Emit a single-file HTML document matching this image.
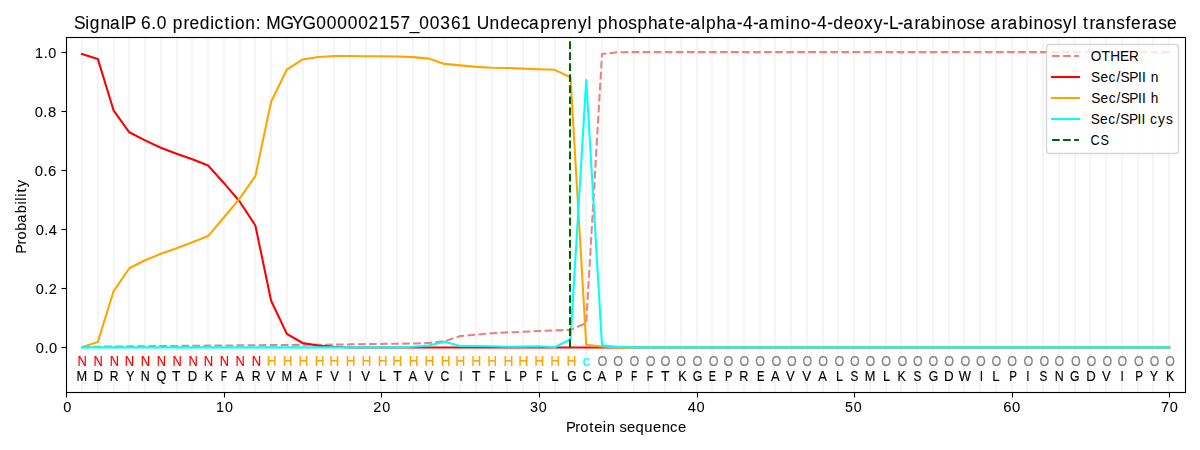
<!DOCTYPE html>
<html><head><meta charset="utf-8"><title>SignalP 6.0 prediction</title><style>html,body{margin:0;padding:0;background:#fff;width:1200px;height:450px;overflow:hidden}svg{display:block;font-family:"Liberation Sans",sans-serif}</style></head><body>
<svg width="1200" height="450" viewBox="0 0 1200 450">
<rect width="1200" height="450" fill="#fff"/>
<defs><clipPath id="c"><rect x="66.28" y="37.33" width="1118.72" height="354.39"/></clipPath></defs>
<path clip-path="url(#c)" d="M82 392V37M98 392V37M114 392V37M129 392V37M145 392V37M161 392V37M177 392V37M192 392V37M208 392V37M224 392V37M240 392V37M255 392V37M271 392V37M287 392V37M303 392V37M318 392V37M334 392V37M350 392V37M366 392V37M381 392V37M397 392V37M413 392V37M429 392V37M444 392V37M460 392V37M476 392V37M492 392V37M507 392V37M523 392V37M539 392V37M555 392V37M570 392V37M586 392V37M602 392V37M618 392V37M634 392V37M649 392V37M665 392V37M681 392V37M697 392V37M712 392V37M728 392V37M744 392V37M760 392V37M775 392V37M791 392V37M807 392V37M823 392V37M838 392V37M854 392V37M870 392V37M886 392V37M901 392V37M917 392V37M933 392V37M949 392V37M964 392V37M980 392V37M996 392V37M1012 392V37M1027 392V37M1043 392V37M1059 392V37M1075 392V37M1090 392V37M1106 392V37M1122 392V37M1138 392V37M1153 392V37M1169 392V37" stroke="#f5f5f5" stroke-width="2.08" fill="none"/>
<path clip-path="url(#c)" d="M82.03 346.83 L97.79 346.69 L113.55 346.54 L129.30 346.39 L145.06 346.24 L160.82 346.09 L176.57 345.95 L192.33 345.80 L208.09 345.65 L223.84 345.50 L239.60 345.36 L255.36 345.21 L271.11 345.09 L286.87 344.97 L302.63 344.85 L318.38 344.74 L334.14 344.62 L349.90 344.38 L365.65 344.15 L381.41 343.91 L397.17 343.67 L412.92 343.44 L428.68 342.99 L444.44 341.22 L460.19 336.05 L475.95 334.72 L491.71 333.25 L507.46 332.36 L523.22 331.77 L538.98 331.03 L554.73 330.44 L570.49 329.85 L586.25 322.91 L602.00 54.02 L617.76 52.25 L633.52 52.10 L649.27 52.10 L665.03 52.10 L680.79 52.10 L696.54 52.10 L712.30 52.10 L728.06 52.10 L743.81 52.10 L759.57 52.10 L775.33 52.10 L791.08 52.10 L806.84 52.10 L822.60 52.10 L838.35 52.10 L854.11 52.10 L869.87 52.10 L885.62 52.10 L901.38 52.10 L917.14 52.10 L932.89 52.10 L948.65 52.10 L964.41 52.10 L980.16 52.10 L995.92 52.10 L1011.68 52.10 L1027.43 52.10 L1043.19 52.10 L1058.95 52.10 L1074.70 52.10 L1090.46 52.10 L1106.22 52.10 L1121.97 52.10 L1137.73 52.10 L1153.49 52.10 L1169.24 52.10" stroke="#f08080" stroke-width="2.08" fill="none" stroke-linejoin="round" stroke-linecap="butt" stroke-dasharray="7.71 3.33"/>
<path clip-path="url(#c)" d="M82.03 53.96 L97.79 58.89 L113.55 110.28 L129.30 132.28 L145.06 140.40 L160.82 147.78 L176.57 153.69 L192.33 159.30 L208.09 165.50 L223.84 182.93 L239.60 201.53 L255.36 225.45 L271.11 300.76 L286.87 333.84 L302.63 342.99 L318.38 345.65 L334.14 346.83 L349.90 347.42 L365.65 347.42 L381.41 347.42 L397.17 347.42 L412.92 347.42 L428.68 347.42 L444.44 347.42 L460.19 347.42 L475.95 347.42 L491.71 347.42 L507.46 347.42 L523.22 347.42 L538.98 347.42 L554.73 347.42 L570.49 347.42 L586.25 347.42 L602.00 347.42 L617.76 347.42 L633.52 347.42 L649.27 347.42 L665.03 347.42 L680.79 347.42 L696.54 347.42 L712.30 347.42 L728.06 347.42 L743.81 347.42 L759.57 347.42 L775.33 347.42 L791.08 347.42 L806.84 347.42 L822.60 347.42 L838.35 347.42 L854.11 347.42 L869.87 347.42 L885.62 347.42 L901.38 347.42 L917.14 347.42 L932.89 347.42 L948.65 347.42 L964.41 347.42 L980.16 347.42 L995.92 347.42 L1011.68 347.42 L1027.43 347.42 L1043.19 347.42 L1058.95 347.42 L1074.70 347.42 L1090.46 347.42 L1106.22 347.42 L1121.97 347.42 L1137.73 347.42 L1153.49 347.42 L1169.24 347.42" stroke="#ff0000" stroke-width="2.08" fill="none" stroke-linejoin="round" stroke-linecap="square"/>
<path clip-path="url(#c)" d="M82.03 347.13 L97.79 342.11 L113.55 291.31 L129.30 268.28 L145.06 260.30 L160.82 253.81 L176.57 248.19 L192.33 242.29 L208.09 236.09 L223.84 217.48 L239.60 198.58 L255.36 176.14 L271.11 101.71 L286.87 69.52 L302.63 59.48 L318.38 56.97 L334.14 56.06 L349.90 56.06 L365.65 56.23 L381.41 56.29 L397.17 56.53 L412.92 57.12 L428.68 58.60 L444.44 63.91 L460.19 65.39 L475.95 66.87 L491.71 67.75 L507.46 68.05 L523.22 68.64 L538.98 69.23 L554.73 69.82 L570.49 77.20 L586.25 344.77 L602.00 346.54 L617.76 347.42 L633.52 347.42 L649.27 347.42 L665.03 347.42 L680.79 347.42 L696.54 347.42 L712.30 347.42 L728.06 347.42 L743.81 347.42 L759.57 347.42 L775.33 347.42 L791.08 347.42 L806.84 347.42 L822.60 347.42 L838.35 347.42 L854.11 347.42 L869.87 347.42 L885.62 347.42 L901.38 347.42 L917.14 347.42 L932.89 347.42 L948.65 347.42 L964.41 347.42 L980.16 347.42 L995.92 347.42 L1011.68 347.42 L1027.43 347.42 L1043.19 347.42 L1058.95 347.42 L1074.70 347.42 L1090.46 347.42 L1106.22 347.42 L1121.97 347.42 L1137.73 347.42 L1153.49 347.42 L1169.24 347.42" stroke="#ffa500" stroke-width="2.08" fill="none" stroke-linejoin="round" stroke-linecap="square"/>
<path clip-path="url(#c)" d="M82.03 347.36 L97.79 347.36 L113.55 347.36 L129.30 347.36 L145.06 347.36 L160.82 347.36 L176.57 347.36 L192.33 347.36 L208.09 347.36 L223.84 347.36 L239.60 347.36 L255.36 347.36 L271.11 347.36 L286.87 347.36 L302.63 347.36 L318.38 347.36 L334.14 347.36 L349.90 347.36 L365.65 347.36 L381.41 347.36 L397.17 347.36 L412.92 346.83 L428.68 345.42 L444.44 341.81 L460.19 345.95 L475.95 345.95 L491.71 346.24 L507.46 346.83 L523.22 346.63 L538.98 346.33 L554.73 347.22 L570.49 339.15 L586.25 80.16 L602.00 345.36 L617.76 346.83 L633.52 347.36 L649.27 347.36 L665.03 347.36 L680.79 347.36 L696.54 347.36 L712.30 347.36 L728.06 347.36 L743.81 347.36 L759.57 347.36 L775.33 347.36 L791.08 347.36 L806.84 347.36 L822.60 347.36 L838.35 347.36 L854.11 347.36 L869.87 347.36 L885.62 347.36 L901.38 347.36 L917.14 347.36 L932.89 347.36 L948.65 347.36 L964.41 347.36 L980.16 347.36 L995.92 347.36 L1011.68 347.36 L1027.43 347.36 L1043.19 347.36 L1058.95 347.36 L1074.70 347.36 L1090.46 347.36 L1106.22 347.36 L1121.97 347.36 L1137.73 347.36 L1153.49 347.36 L1169.24 347.36" stroke="#00ffff" stroke-width="2.08" fill="none" stroke-linejoin="round" stroke-linecap="square"/>
<path clip-path="url(#c)" d="M570 347V37" stroke="#006400" stroke-width="2.08" fill="none" stroke-dasharray="7.71 3.33"/>
<path d="M66.5 392.5V37.5M1185.5 392.5V37.5M66.5 392.5H1185.5M66.5 37.5H1185.5" stroke="#000" stroke-width="1.11" fill="none" stroke-linecap="square"/>
<path d="M66.5 392.5V397.5M224.5 392.5V397.5M381.5 392.5V397.5M539.5 392.5V397.5M697.5 392.5V397.5M854.5 392.5V397.5M1012.5 392.5V397.5M1169.5 392.5V397.5M66.5 347.5H61.5M66.5 288.5H61.5M66.5 229.5H61.5M66.5 170.5H61.5M66.5 111.5H61.5M66.5 52.5H61.5" stroke="#000" stroke-width="1.11" fill="none"/>
<g fill="#000" fill-opacity="0.056" shape-rendering="crispEdges"><rect x="66" y="391" width="1119" height="1"/><rect x="66" y="393" width="1119" height="1"/><rect x="66" y="36" width="1119" height="1"/><rect x="66" y="38" width="1119" height="1"/><rect x="62" y="346" width="4" height="1"/><rect x="62" y="348" width="4" height="1"/><rect x="62" y="287" width="4" height="1"/><rect x="62" y="289" width="4" height="1"/><rect x="62" y="228" width="4" height="1"/><rect x="62" y="230" width="4" height="1"/><rect x="62" y="169" width="4" height="1"/><rect x="62" y="171" width="4" height="1"/><rect x="62" y="110" width="4" height="1"/><rect x="62" y="112" width="4" height="1"/><rect x="62" y="51" width="4" height="1"/><rect x="62" y="53" width="4" height="1"/></g>
<g font-family="Liberation Sans, sans-serif" opacity="0.999"><text x="62.345" y="412.444" transform="translate(0.921 0) matrix(0.995 0 0 1 0.334 0)" font-size="14.72" stroke="#000000" stroke-width="0.075">0</text><text x="215.37 224.559" y="412.444" transform="translate(0.839 0) matrix(0.973 0 0 1 5.711 0)" font-size="14.72" stroke="#000000" stroke-width="0.075">10</text><text x="373.238 382.38" y="412.444" transform="translate(0.05 0) matrix(0.977 0 0 1 8.543 0)" font-size="14.72" stroke="#000000" stroke-width="0.075">20</text><text x="530.454 539.409" y="412.444" transform="translate(-0.53 0) matrix(0.975 0 0 1 13.255 0)" font-size="14.72" stroke="#000000" stroke-width="0.075">30</text><text x="688.344 697.142" y="412.444" transform="translate(-0.729 0) matrix(0.995 0 0 1 3.659 0)" font-size="14.72" stroke="#000000" stroke-width="0.075">40</text><text x="845.418 854.524" y="412.444" transform="translate(-0.684 0) matrix(0.967 0 0 1 28.084 0)" font-size="14.72" stroke="#000000" stroke-width="0.075">50</text><text x="1003.27 1012.043" y="412.444" transform="translate(-0.335 0) matrix(1.012 0 0 1 -11.741 0)" font-size="14.72" stroke="#000000" stroke-width="0.075">60</text><text x="1160.365 1169.285" y="412.444" transform="translate(0.593 0) matrix(0.984 0 0 1 18.505 0)" font-size="14.72" stroke="#000000" stroke-width="0.075">70</text><text x="35.335 43.939 48.499" y="352.924" transform="translate(0.522 0) matrix(0.997 0 0 1 0.105 0)" font-size="14.72" stroke="#000000" stroke-width="0.083">0.0</text><text x="35.406 44.116 48.597" y="293.859" transform="translate(0.398 0) matrix(0.981 0 0 1 0.66 0)" font-size="14.72" stroke="#000000" stroke-width="0.083">0.2</text><text x="35.335 43.939 48.498" y="234.794" transform="translate(0.42 0) matrix(0.997 0 0 1 0.105 0)" font-size="14.72" stroke="#000000" stroke-width="0.083">0.4</text><text x="35.267 43.77 48.229" y="175.729" transform="translate(-0.506 0) matrix(1.013 0 0 1 -0.44 0)" font-size="14.72" stroke="#000000" stroke-width="0.083">0.6</text><text x="35.313 43.885 48.414" y="116.664" transform="translate(-0.548 0) matrix(1.002 0 0 1 -0.066 0)" font-size="14.72" stroke="#000000" stroke-width="0.083">0.8</text><text x="35.348 44.281 48.97" y="57.6" transform="translate(-0.293 0) matrix(0.978 0 0 1 0.772 0)" font-size="14.72" stroke="#000000" stroke-width="0.083">1.0</text><text x="565.482 574.73 579.686 588.63 593.657 602.218 606.094 614.483 618.85 626.103 634.579 643.454 652.085 660.669 669.008 676.824" y="432" transform="translate(0.155 0) matrix(1.006 0 0 1 -3.119 0)" font-size="14.72" stroke="#000000" stroke-width="0.073">Protein sequence</text><text x="25.538 34.871 39.904 48.705 56.871 66.322 75.139 79.033 82.941 87.188 92.519" y="251.465" transform="translate(0.023 1.86) rotate(-90 26 251.465) matrix(0.993 0 0 1 0.173 0)" font-size="14.72" stroke="#000000" stroke-width="0.084">Probability</text><text x="73.587 85.097 89.774 100.6 110.442 121.496 125.322 136.122 141.954 152.397 157.992 168.201 174.131 185.12 191.204 201.67 212.396 216.752 226.825 233.019 237.609 248.14 258.739 264.185 269.501 283.873 295.685 306.405 320.298 330.991 341.684 352.377 363.071 373.54 384.496 395.339 406.064 415.673 425.32 436.013 446.729 457.528 468.132 478.557 483.737 496.882 507.443 518.108 528.253 537.149 548.391 559.38 565.463 576.062 586.854 596.704 601.019 606.949 617.536 628.036 638.187 647.557 658.144 668.012 679.501 685.634 695.85 701.365 712.419 717.317 727.904 737.772 748.552 754.896 765.228 770.743 782.357 798.355 803.164 813.638 824.041 830.384 840.717 846.95 857.615 867.995 878.081 888.171 897.492 903.526 912.641 918.155 929.693 935.468 946.71 957.224 962.033 972.507 982.659 991.788 1001.884 1006.883 1018.42 1024.195 1035.438 1045.951 1050.761 1061.235 1071.386 1080.775 1090.625 1094.939 1101.116 1107.784 1113.559 1124.722 1135.036 1144.575 1150.149 1161.123 1166.898 1177.681 1186.811" y="29" transform="translate(0.316 0) matrix(0.982 0 0 1 1.337 0)" font-size="17.664" stroke="#000000" stroke-width="0.1">SignalP 6.0 prediction: MGYG000002157_00361 Undecaprenyl phosphate-alpha-4-amino-4-deoxy-L-arabinose arabinosyl transferase</text><text x="76.847" y="366.19" transform="matrix(0.885 0 0 1 9.604 0)" font-size="14.72" fill="#ff0000" stroke="#ff0000" stroke-width="0.16">N</text><text x="76.034" y="380.956" transform="matrix(0.868 0 0 1 10.608 0)" font-size="14.72" stroke="#000000" stroke-width="0.16">M</text><text x="92.604" y="366.19" transform="matrix(0.884 0 0 1 11.64 0)" font-size="14.72" fill="#ff0000" stroke="#ff0000" stroke-width="0.16">N</text><text x="92.416" y="380.956" transform="matrix(0.904 0 0 1 9.975 0)" font-size="14.72" stroke="#000000" stroke-width="0.16">D</text><text x="108.36" y="366.19" transform="matrix(0.874 0 0 1 15.065 0)" font-size="14.72" fill="#ff0000" stroke="#ff0000" stroke-width="0.16">N</text><text x="108.735" y="380.956" transform="matrix(0.825 0 0 1 20.001 0)" font-size="14.72" stroke="#000000" stroke-width="0.16">R</text><text x="124.117" y="366.19" transform="matrix(0.885 0 0 1 14.842 0)" font-size="14.72" fill="#ff0000" stroke="#ff0000" stroke-width="0.16">N</text><text x="125.117" y="380.956" transform="matrix(0.829 0 0 1 22.432 0)" font-size="14.72" stroke="#000000" stroke-width="0.16">Y</text><text x="139.874" y="366.19" transform="matrix(0.885 0 0 1 16.862 0)" font-size="14.72" fill="#ff0000" stroke="#ff0000" stroke-width="0.16">N</text><text x="139.874" y="380.956" transform="matrix(0.845 0 0 1 22.467 0)" font-size="14.72" stroke="#000000" stroke-width="0.16">N</text><text x="155.63" y="366.19" transform="matrix(0.874 0 0 1 20.806 0)" font-size="14.72" fill="#ff0000" stroke="#ff0000" stroke-width="0.16">N</text><text x="155.38" y="380.956" transform="matrix(0.86 0 0 1 22.82 0)" font-size="14.72" stroke="#000000" stroke-width="0.16">Q</text><text x="171.387" y="366.19" transform="matrix(0.882 0 0 1 21.402 0)" font-size="14.72" fill="#ff0000" stroke="#ff0000" stroke-width="0.16">N</text><text x="172.324" y="380.956" transform="matrix(0.945 0 0 1 9.245 0)" font-size="14.72" stroke="#000000" stroke-width="0.16">T</text><text x="187.143" y="366.19" transform="matrix(0.883 0 0 1 23.359 0)" font-size="14.72" fill="#ff0000" stroke="#ff0000" stroke-width="0.16">N</text><text x="186.956" y="380.956" transform="matrix(0.893 0 0 1 20.843 0)" font-size="14.72" stroke="#000000" stroke-width="0.16">D</text><text x="202.9" y="366.19" transform="matrix(0.886 0 0 1 23.907 0)" font-size="14.72" fill="#ff0000" stroke="#ff0000" stroke-width="0.16">N</text><text x="203.588" y="380.956" transform="matrix(0.841 0 0 1 33.592 0)" font-size="14.72" stroke="#000000" stroke-width="0.16">K</text><text x="218.657" y="366.19" transform="matrix(0.874 0 0 1 28.746 0)" font-size="14.72" fill="#ff0000" stroke="#ff0000" stroke-width="0.16">N</text><text x="219.844" y="380.956" transform="matrix(0.694 0 0 1 68.281 0)" font-size="14.72" stroke="#000000" stroke-width="0.16">F</text><text x="234.413" y="366.19" transform="matrix(0.882 0 0 1 28.819 0)" font-size="14.72" fill="#ff0000" stroke="#ff0000" stroke-width="0.16">N</text><text x="234.851" y="380.956" transform="matrix(0.879 0 0 1 28.996 0)" font-size="14.72" stroke="#000000" stroke-width="0.16">A</text><text x="250.17" y="366.19" transform="matrix(0.883 0 0 1 30.741 0)" font-size="14.72" fill="#ff0000" stroke="#ff0000" stroke-width="0.16">N</text><text x="250.545" y="380.956" transform="matrix(0.834 0 0 1 42.767 0)" font-size="14.72" stroke="#000000" stroke-width="0.16">R</text><text x="265.927" y="366.19" transform="matrix(0.919 0 0 1 22.338 0)" font-size="14.72" fill="#ffa500" stroke="#ffa500" stroke-width="0.16">H</text><text x="266.364" y="380.956" transform="matrix(0.884 0 0 1 31.145 0)" font-size="14.72" stroke="#000000" stroke-width="0.16">V</text><text x="281.683" y="366.19" transform="matrix(0.917 0 0 1 24.399 0)" font-size="14.72" fill="#ffa500" stroke="#ffa500" stroke-width="0.16">H</text><text x="280.871" y="380.956" transform="matrix(0.868 0 0 1 37.812 0)" font-size="14.72" stroke="#000000" stroke-width="0.16">M</text><text x="297.44" y="366.19" transform="matrix(0.927 0 0 1 22.731 0)" font-size="14.72" fill="#ffa500" stroke="#ffa500" stroke-width="0.16">H</text><text x="297.878" y="380.956" transform="matrix(0.885 0 0 1 34.766 0)" font-size="14.72" stroke="#000000" stroke-width="0.16">A</text><text x="313.197" y="366.19" transform="matrix(0.917 0 0 1 27.442 0)" font-size="14.72" fill="#ffa500" stroke="#ffa500" stroke-width="0.16">H</text><text x="314.384" y="380.956" transform="matrix(0.696 0 0 1 97.147 0)" font-size="14.72" stroke="#000000" stroke-width="0.16">F</text><text x="328.953" y="366.19" transform="matrix(0.945 0 0 1 18.399 0)" font-size="14.72" fill="#ffa500" stroke="#ffa500" stroke-width="0.16">H</text><text x="329.391" y="380.956" transform="matrix(0.886 0 0 1 38.499 0)" font-size="14.72" stroke="#000000" stroke-width="0.16">V</text><text x="344.71" y="366.19" transform="matrix(0.917 0 0 1 29.612 0)" font-size="14.72" fill="#ffa500" stroke="#ffa500" stroke-width="0.16">H</text><text x="347.897" y="380.956" transform="matrix(0.806 0 0 1 68.022 0)" font-size="14.72" stroke="#000000" stroke-width="0.16">I</text><text x="360.467" y="366.19" transform="matrix(0.927 0 0 1 27.312 0)" font-size="14.72" fill="#ffa500" stroke="#ffa500" stroke-width="0.16">H</text><text x="360.904" y="380.956" transform="matrix(0.89 0 0 1 40.168 0)" font-size="14.72" stroke="#000000" stroke-width="0.16">V</text><text x="376.223" y="366.19" transform="matrix(0.917 0 0 1 32.652 0)" font-size="14.72" fill="#ffa500" stroke="#ffa500" stroke-width="0.16">H</text><text x="377.536" y="380.956" transform="matrix(0.852 0 0 1 57.25 0)" font-size="14.72" stroke="#000000" stroke-width="0.16">L</text><text x="391.98" y="366.19" transform="matrix(0.945 0 0 1 21.861 0)" font-size="14.72" fill="#ffa500" stroke="#ffa500" stroke-width="0.16">H</text><text x="392.917" y="380.956" transform="matrix(0.931 0 0 1 27.522 0)" font-size="14.72" stroke="#000000" stroke-width="0.16">T</text><text x="407.737" y="366.19" transform="matrix(0.917 0 0 1 34.825 0)" font-size="14.72" fill="#ffa500" stroke="#ffa500" stroke-width="0.16">H</text><text x="408.174" y="380.956" transform="matrix(0.88 0 0 1 49.319 0)" font-size="14.72" stroke="#000000" stroke-width="0.16">A</text><text x="423.493" y="366.19" transform="matrix(0.925 0 0 1 32.827 0)" font-size="14.72" fill="#ffa500" stroke="#ffa500" stroke-width="0.16">H</text><text x="423.931" y="380.956" transform="matrix(0.89 0 0 1 47.094 0)" font-size="14.72" stroke="#000000" stroke-width="0.16">V</text><text x="439.25" y="366.19" transform="matrix(0.917 0 0 1 37.862 0)" font-size="14.72" fill="#ffa500" stroke="#ffa500" stroke-width="0.16">H</text><text x="439.562" y="380.956" transform="matrix(0.826 0 0 1 77.461 0)" font-size="14.72" stroke="#000000" stroke-width="0.16">C</text><text x="455.007" y="366.19" transform="matrix(0.945 0 0 1 25.324 0)" font-size="14.72" fill="#ffa500" stroke="#ffa500" stroke-width="0.16">H</text><text x="458.194" y="380.956" transform="matrix(0.803 0 0 1 91.493 0)" font-size="14.72" stroke="#000000" stroke-width="0.16">I</text><text x="470.763" y="366.19" transform="matrix(0.946 0 0 1 25.913 0)" font-size="14.72" fill="#ffa500" stroke="#ffa500" stroke-width="0.16">H</text><text x="471.701" y="380.956" transform="matrix(0.944 0 0 1 26.668 0)" font-size="14.72" stroke="#000000" stroke-width="0.16">T</text><text x="486.52" y="366.19" transform="matrix(0.923 0 0 1 38.247 0)" font-size="14.72" fill="#ffa500" stroke="#ffa500" stroke-width="0.16">H</text><text x="487.707" y="380.956" transform="matrix(0.696 0 0 1 149.651 0)" font-size="14.72" stroke="#000000" stroke-width="0.16">F</text><text x="502.277" y="366.19" transform="matrix(0.932 0 0 1 35.287 0)" font-size="14.72" fill="#ffa500" stroke="#ffa500" stroke-width="0.16">H</text><text x="503.589" y="380.956" transform="matrix(0.882 0 0 1 60.151 0)" font-size="14.72" stroke="#000000" stroke-width="0.16">L</text><text x="518.033" y="366.19" transform="matrix(0.957 0 0 1 22.527 0)" font-size="14.72" fill="#ffa500" stroke="#ffa500" stroke-width="0.16">H</text><text x="519.033" y="380.956" transform="matrix(0.787 0 0 1 110.799 0)" font-size="14.72" stroke="#000000" stroke-width="0.16">P</text><text x="533.79" y="366.19" transform="matrix(0.946 0 0 1 29.289 0)" font-size="14.72" fill="#ffa500" stroke="#ffa500" stroke-width="0.16">H</text><text x="534.977" y="380.956" transform="matrix(0.709 0 0 1 156.633 0)" font-size="14.72" stroke="#000000" stroke-width="0.16">F</text><text x="549.546" y="366.19" transform="matrix(0.923 0 0 1 43.077 0)" font-size="14.72" fill="#ffa500" stroke="#ffa500" stroke-width="0.16">H</text><text x="550.859" y="380.956" transform="matrix(0.893 0 0 1 59.328 0)" font-size="14.72" stroke="#000000" stroke-width="0.16">L</text><text x="565.303" y="366.19" transform="matrix(0.932 0 0 1 39.574 0)" font-size="14.72" fill="#ffa500" stroke="#ffa500" stroke-width="0.16">H</text><text x="565.116" y="380.956" transform="matrix(0.831 0 0 1 97.556 0)" font-size="14.72" stroke="#000000" stroke-width="0.16">G</text><text x="582.435" y="366.19" transform="matrix(0.97 0 0 1 17.692 0)" font-size="14.72" fill="#00ffff" stroke="#00ffff" stroke-width="0.16">c</text><text x="581.372" y="380.956" transform="matrix(0.841 0 0 1 93.748 0)" font-size="14.72" stroke="#000000" stroke-width="0.16">C</text><text x="596.566" y="366.19" transform="matrix(0.859 0 0 1 85.019 0)" font-size="14.72" fill="#808080" stroke="#808080" stroke-width="0.16">O</text><text x="597.254" y="380.956" transform="matrix(0.88 0 0 1 71.978 0)" font-size="14.72" stroke="#000000" stroke-width="0.16">A</text><text x="612.323" y="366.19" transform="matrix(0.858 0 0 1 87.864 0)" font-size="14.72" fill="#808080" stroke="#808080" stroke-width="0.16">O</text><text x="613.573" y="380.956" transform="matrix(0.746 0 0 1 157.642 0)" font-size="14.72" stroke="#000000" stroke-width="0.16">P</text><text x="628.08" y="366.19" transform="matrix(0.857 0 0 1 91.301 0)" font-size="14.72" fill="#808080" stroke="#808080" stroke-width="0.16">O</text><text x="629.517" y="380.956" transform="matrix(0.696 0 0 1 192.92 0)" font-size="14.72" stroke="#000000" stroke-width="0.16">F</text><text x="643.836" y="366.19" transform="matrix(0.856 0 0 1 94.625 0)" font-size="14.72" fill="#808080" stroke="#808080" stroke-width="0.16">O</text><text x="645.274" y="380.956" transform="matrix(0.707 0 0 1 190.628 0)" font-size="14.72" stroke="#000000" stroke-width="0.16">F</text><text x="659.593" y="366.19" transform="matrix(0.859 0 0 1 93.89 0)" font-size="14.72" fill="#808080" stroke="#808080" stroke-width="0.16">O</text><text x="660.781" y="380.956" transform="matrix(0.944 0 0 1 37.24 0)" font-size="14.72" stroke="#000000" stroke-width="0.16">T</text><text x="675.35" y="366.19" transform="matrix(0.858 0 0 1 96.793 0)" font-size="14.72" fill="#808080" stroke="#808080" stroke-width="0.16">O</text><text x="676.287" y="380.956" transform="matrix(0.865 0 0 1 93.198 0)" font-size="14.72" stroke="#000000" stroke-width="0.16">K</text><text x="691.106" y="366.19" transform="matrix(0.857 0 0 1 100.323 0)" font-size="14.72" fill="#808080" stroke="#808080" stroke-width="0.16">O</text><text x="691.169" y="380.956" transform="matrix(0.843 0 0 1 110.072 0)" font-size="14.72" stroke="#000000" stroke-width="0.16">G</text><text x="706.863" y="366.19" transform="matrix(0.856 0 0 1 103.713 0)" font-size="14.72" fill="#808080" stroke="#808080" stroke-width="0.16">O</text><text x="707.925" y="380.956" transform="matrix(0.726 0 0 1 194.85 0)" font-size="14.72" stroke="#000000" stroke-width="0.16">E</text><text x="722.62" y="366.19" transform="matrix(0.859 0 0 1 102.762 0)" font-size="14.72" fill="#808080" stroke="#808080" stroke-width="0.16">O</text><text x="723.87" y="380.956" transform="matrix(0.753 0 0 1 179.92 0)" font-size="14.72" stroke="#000000" stroke-width="0.16">P</text><text x="738.376" y="366.19" transform="matrix(0.847 0 0 1 114.197 0)" font-size="14.72" fill="#808080" stroke="#808080" stroke-width="0.16">O</text><text x="739.001" y="380.956" transform="matrix(0.858 0 0 1 105.175 0)" font-size="14.72" stroke="#000000" stroke-width="0.16">R</text><text x="754.133" y="366.19" transform="matrix(0.856 0 0 1 109.701 0)" font-size="14.72" fill="#808080" stroke="#808080" stroke-width="0.16">O</text><text x="755.195" y="380.956" transform="matrix(0.756 0 0 1 186.068 0)" font-size="14.72" stroke="#000000" stroke-width="0.16">E</text><text x="769.89" y="366.19" transform="matrix(0.858 0 0 1 111.027 0)" font-size="14.72" fill="#808080" stroke="#808080" stroke-width="0.16">O</text><text x="770.577" y="380.956" transform="matrix(0.885 0 0 1 89.013 0)" font-size="14.72" stroke="#000000" stroke-width="0.16">A</text><text x="785.646" y="366.19" transform="matrix(0.844 0 0 1 123.835 0)" font-size="14.72" fill="#808080" stroke="#808080" stroke-width="0.16">O</text><text x="786.334" y="380.956" transform="matrix(0.888 0 0 1 87.773 0)" font-size="14.72" stroke="#000000" stroke-width="0.16">V</text><text x="801.403" y="366.19" transform="matrix(0.847 0 0 1 123.813 0)" font-size="14.72" fill="#808080" stroke="#808080" stroke-width="0.16">O</text><text x="802.09" y="380.956" transform="matrix(0.903 0 0 1 77.959 0)" font-size="14.72" stroke="#000000" stroke-width="0.16">V</text><text x="817.16" y="366.19" transform="matrix(0.856 0 0 1 118.748 0)" font-size="14.72" fill="#808080" stroke="#808080" stroke-width="0.16">O</text><text x="817.847" y="380.956" transform="matrix(0.879 0 0 1 99.456 0)" font-size="14.72" stroke="#000000" stroke-width="0.16">A</text><text x="832.916" y="366.19" transform="matrix(0.857 0 0 1 120.659 0)" font-size="14.72" fill="#808080" stroke="#808080" stroke-width="0.16">O</text><text x="834.479" y="380.956" transform="matrix(0.852 0 0 1 125.008 0)" font-size="14.72" stroke="#000000" stroke-width="0.16">L</text><text x="848.673" y="366.19" transform="matrix(0.844 0 0 1 133.669 0)" font-size="14.72" fill="#808080" stroke="#808080" stroke-width="0.16">O</text><text x="849.735" y="380.956" transform="matrix(0.796 0 0 1 174.121 0)" font-size="14.72" stroke="#000000" stroke-width="0.16">S</text><text x="864.429" y="366.19" transform="matrix(0.847 0 0 1 133.429 0)" font-size="14.72" fill="#808080" stroke="#808080" stroke-width="0.16">O</text><text x="863.867" y="380.956" transform="matrix(0.867 0 0 1 115.877 0)" font-size="14.72" stroke="#000000" stroke-width="0.16">M</text><text x="880.186" y="366.19" transform="matrix(0.856 0 0 1 127.796 0)" font-size="14.72" fill="#808080" stroke="#808080" stroke-width="0.16">O</text><text x="881.749" y="380.956" transform="matrix(0.872 0 0 1 114.112 0)" font-size="14.72" stroke="#000000" stroke-width="0.16">L</text><text x="895.943" y="366.19" transform="matrix(0.857 0 0 1 129.681 0)" font-size="14.72" fill="#808080" stroke="#808080" stroke-width="0.16">O</text><text x="896.88" y="380.956" transform="matrix(0.842 0 0 1 142.362 0)" font-size="14.72" stroke="#000000" stroke-width="0.16">K</text><text x="911.699" y="366.19" transform="matrix(0.844 0 0 1 143.504 0)" font-size="14.72" fill="#808080" stroke="#808080" stroke-width="0.16">O</text><text x="912.762" y="380.956" transform="matrix(0.796 0 0 1 186.947 0)" font-size="14.72" stroke="#000000" stroke-width="0.16">S</text><text x="927.456" y="366.19" transform="matrix(0.847 0 0 1 143.045 0)" font-size="14.72" fill="#808080" stroke="#808080" stroke-width="0.16">O</text><text x="927.519" y="380.956" transform="matrix(0.833 0 0 1 156.136 0)" font-size="14.72" stroke="#000000" stroke-width="0.16">G</text><text x="943.213" y="366.19" transform="matrix(0.856 0 0 1 136.843 0)" font-size="14.72" fill="#808080" stroke="#808080" stroke-width="0.16">O</text><text x="943.275" y="380.956" transform="matrix(0.912 0 0 1 83.822 0)" font-size="14.72" stroke="#000000" stroke-width="0.16">D</text><text x="958.969" y="366.19" transform="matrix(0.857 0 0 1 138.704 0)" font-size="14.72" fill="#808080" stroke="#808080" stroke-width="0.16">O</text><text x="957.532" y="380.956" transform="matrix(0.881 0 0 1 115.078 0)" font-size="14.72" stroke="#000000" stroke-width="0.16">W</text><text x="974.726" y="366.19" transform="matrix(0.844 0 0 1 153.338 0)" font-size="14.72" fill="#808080" stroke="#808080" stroke-width="0.16">O</text><text x="978.164" y="380.956" transform="matrix(0.816 0 0 1 181.534 0)" font-size="14.72" stroke="#000000" stroke-width="0.16">I</text><text x="990.483" y="366.19" transform="matrix(0.847 0 0 1 152.661 0)" font-size="14.72" fill="#808080" stroke="#808080" stroke-width="0.16">O</text><text x="992.045" y="380.956" transform="matrix(0.896 0 0 1 103.435 0)" font-size="14.72" stroke="#000000" stroke-width="0.16">L</text><text x="1006.239" y="366.19" transform="matrix(0.856 0 0 1 145.89 0)" font-size="14.72" fill="#808080" stroke="#808080" stroke-width="0.16">O</text><text x="1007.489" y="380.956" transform="matrix(0.79 0 0 1 213.352 0)" font-size="14.72" stroke="#000000" stroke-width="0.16">P</text><text x="1021.996" y="366.19" transform="matrix(0.857 0 0 1 147.726 0)" font-size="14.72" fill="#808080" stroke="#808080" stroke-width="0.16">O</text><text x="1025.433" y="380.956" transform="matrix(0.81 0 0 1 195.64 0)" font-size="14.72" stroke="#000000" stroke-width="0.16">I</text><text x="1037.753" y="366.19" transform="matrix(0.846 0 0 1 161.658 0)" font-size="14.72" fill="#808080" stroke="#808080" stroke-width="0.16">O</text><text x="1038.815" y="380.956" transform="matrix(0.796 0 0 1 212.601 0)" font-size="14.72" stroke="#000000" stroke-width="0.16">S</text><text x="1053.509" y="366.19" transform="matrix(0.847 0 0 1 162.277 0)" font-size="14.72" fill="#808080" stroke="#808080" stroke-width="0.16">O</text><text x="1053.759" y="380.956" transform="matrix(0.846 0 0 1 163.171 0)" font-size="14.72" stroke="#000000" stroke-width="0.16">N</text><text x="1069.266" y="366.19" transform="matrix(0.846 0 0 1 166.403 0)" font-size="14.72" fill="#808080" stroke="#808080" stroke-width="0.16">O</text><text x="1069.328" y="380.956" transform="matrix(0.833 0 0 1 179.377 0)" font-size="14.72" stroke="#000000" stroke-width="0.16">G</text><text x="1085.023" y="366.19" transform="matrix(0.857 0 0 1 156.748 0)" font-size="14.72" fill="#808080" stroke="#808080" stroke-width="0.16">O</text><text x="1085.085" y="380.956" transform="matrix(0.893 0 0 1 117.255 0)" font-size="14.72" stroke="#000000" stroke-width="0.16">D</text><text x="1100.779" y="366.19" transform="matrix(0.846 0 0 1 171.351 0)" font-size="14.72" fill="#808080" stroke="#808080" stroke-width="0.16">O</text><text x="1101.467" y="380.956" transform="matrix(0.878 0 0 1 135.007 0)" font-size="14.72" stroke="#000000" stroke-width="0.16">V</text><text x="1116.536" y="366.19" transform="matrix(0.847 0 0 1 171.893 0)" font-size="14.72" fill="#808080" stroke="#808080" stroke-width="0.16">O</text><text x="1119.973" y="380.956" transform="matrix(0.806 0 0 1 217.732 0)" font-size="14.72" stroke="#000000" stroke-width="0.16">I</text><text x="1132.293" y="366.19" transform="matrix(0.846 0 0 1 176.135 0)" font-size="14.72" fill="#808080" stroke="#808080" stroke-width="0.16">O</text><text x="1133.543" y="380.956" transform="matrix(0.79 0 0 1 239.873 0)" font-size="14.72" stroke="#000000" stroke-width="0.16">P</text><text x="1148.049" y="366.19" transform="matrix(0.831 0 0 1 195.665 0)" font-size="14.72" fill="#808080" stroke="#808080" stroke-width="0.16">O</text><text x="1149.299" y="380.956" transform="matrix(0.842 0 0 1 182.126 0)" font-size="14.72" stroke="#000000" stroke-width="0.16">Y</text><text x="1163.806" y="366.19" transform="matrix(0.842 0 0 1 185.359 0)" font-size="14.72" fill="#808080" stroke="#808080" stroke-width="0.16">O</text><text x="1164.743" y="380.956" transform="matrix(0.842 0 0 1 185.346 0)" font-size="14.72" stroke="#000000" stroke-width="0.16">K</text></g>
<path d="M1049.50 153.50L1175.50 153.50Q1178.50 153.50 1178.50 150.50L1178.50 47.50Q1178.50 44.50 1175.50 44.50L1049.50 44.50Q1046.50 44.50 1046.50 47.50L1046.50 150.50Q1046.50 153.50 1049.50 153.50Z" fill="#ffffff" fill-opacity="0.8" stroke="#cccccc" stroke-opacity="0.8" stroke-width="1.39"/>
<path d="M1052.00 56.00 L1066.00 56.00 L1079.00 56.00" stroke="#f08080" stroke-width="2.08" fill="none" stroke-linecap="butt" stroke-dasharray="7.71 3.33"/>
<path d="M1052.00 77.00 L1066.00 77.00 L1079.00 77.00" stroke="#ff0000" stroke-width="2.08" fill="none" stroke-linecap="square"/>
<path d="M1052.00 98.00 L1066.00 98.00 L1079.00 98.00" stroke="#ffa500" stroke-width="2.08" fill="none" stroke-linecap="square"/>
<path d="M1052.00 119.00 L1066.00 119.00 L1079.00 119.00" stroke="#00ffff" stroke-width="2.08" fill="none" stroke-linecap="square"/>
<path d="M1052.00 140.00 L1079.00 140.00" stroke="#006400" stroke-width="2.08" fill="none" stroke-linecap="butt" stroke-dasharray="7.71 3.33"/>
<g font-family="Liberation Sans, sans-serif" opacity="0.999"><text x="1091.188 1102.849 1112.271 1122.963 1132.778" y="60.833" transform="translate(-0.455 0) matrix(0.925 0 0 1 81.756 0)" font-size="14.72">OTHER</text><text x="1090.903 1100.916 1109.769 1118.172 1122.574 1131.912 1141.209 1145.504 1149.644 1155.006" y="81.778" transform="translate(0.669 0) matrix(0.931 0 0 1 74.768 0)" font-size="14.72">Sec/SPII n</text><text x="1090.899 1100.904 1109.75 1118.147 1122.543 1131.873 1141.165 1145.456 1149.595 1154.927" y="102.722" transform="translate(0.537 0) matrix(0.932 0 0 1 73.91 0)" font-size="14.72">Sec/SPII h</text><text x="1090.905 1100.92 1109.775 1118.18 1122.584 1131.925 1141.223 1145.519 1149.66 1154.609 1163.276 1171.712" y="123.667" transform="translate(0.019 0) matrix(0.931 0 0 1 75.044 0)" font-size="14.72">Sec/SPII cys</text><text x="1091.25 1102.653" y="144.611" transform="translate(-0.278 0) matrix(0.859 0 0 1 153.48 0)" font-size="14.72">CS</text></g>
</svg>
</body></html>
